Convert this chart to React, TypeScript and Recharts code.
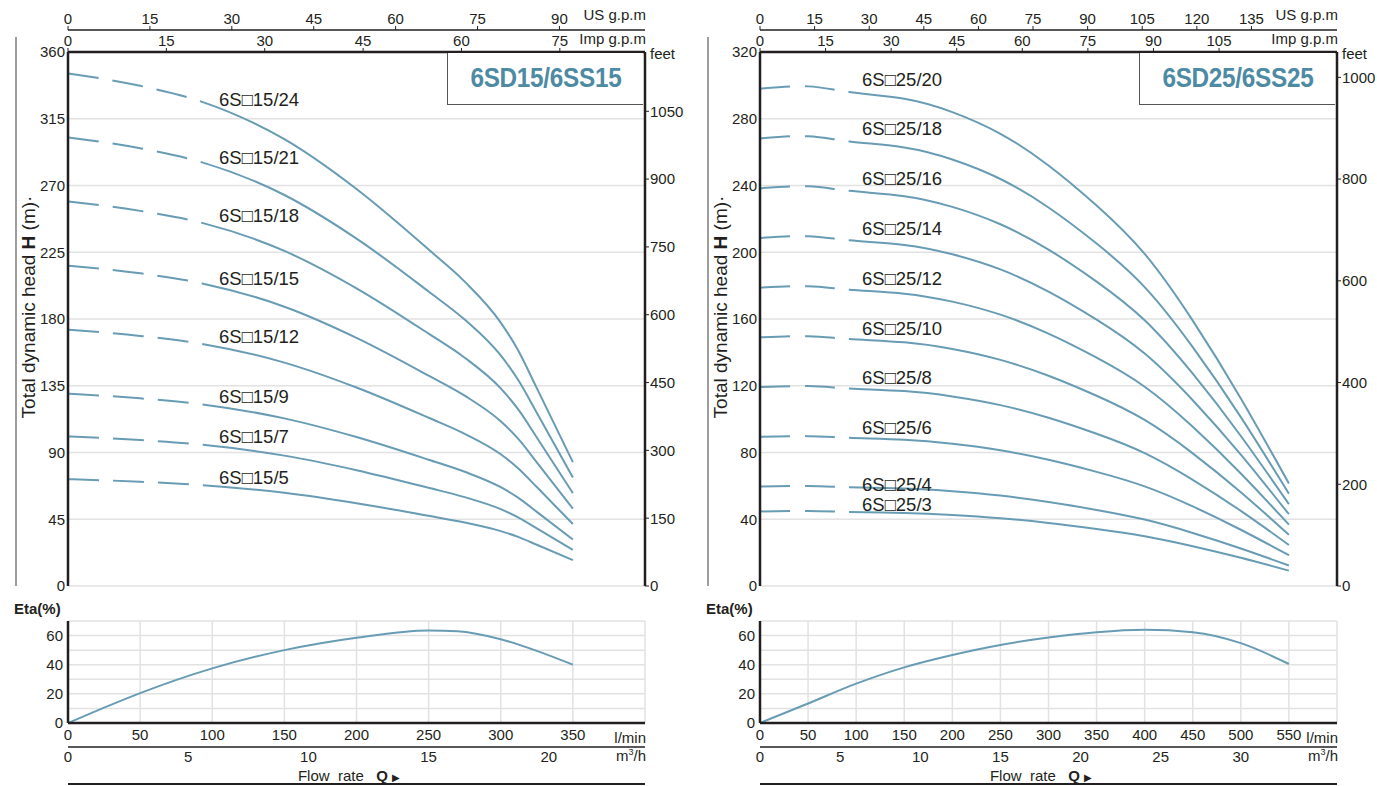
import React from 'react';
import { LineChart, Line, XAxis, YAxis, CartesianGrid } from 'recharts';

const FONT = '"Liberation Sans", Arial, Helvetica, sans-serif';
const INK = '#231f20';
const CURVE = '#689cb4';
const GRID = '#e2e2e2';
const TEAL = '#4d8aa3';

// ---------- 6SD15 / 6SS15 ----------
const flow15 = [0, 50, 93, 150, 200, 250, 275, 300, 312, 325, 350];
const h15_24 = [345.6, 337.2, 326.4, 301.2, 267.6, 226.8, 205.2, 177.6, 158.9, 133.4, 83.5];
const h15_21 = [302.4, 295.1, 285.6, 263.6, 234.2, 198.5, 179.6, 155.4, 139, 116.8, 73.1];
const h15_18 = [259.2, 252.9, 244.8, 225.9, 200.7, 170.1, 153.9, 133.2, 119.2, 100.1, 62.6];
const h15_15 = [216, 210.8, 204, 188.3, 167.3, 141.8, 128.3, 111, 99.3, 83.4, 52.2];
const h15_12 = [172.8, 168.6, 163.2, 150.6, 133.8, 113.4, 102.6, 88.8, 79.4, 66.7, 41.8];
const h15_9 = [129.6, 126.5, 122.4, 113, 100.4, 85.1, 77, 66.6, 59.6, 50, 31.3];
const h15_7 = [100.8, 98.4, 95.2, 87.9, 78.1, 66.2, 59.9, 51.8, 46.3, 38.9, 24.4];
const h15_5 = [72, 70.3, 68, 62.8, 55.8, 47.3, 42.8, 37, 33.1, 27.8, 17.4];
const names15 = ['6S□15/24', '6S□15/21', '6S□15/18', '6S□15/15', '6S□15/12', '6S□15/9', '6S□15/7', '6S□15/5'];
const labelY15 = [100, 158, 216, 279, 337, 397, 437, 478];
const etaFlow15 = [0, 25, 50, 100, 150, 200, 250, 270, 300, 325, 350];
const eta15 = [0, 10.5, 20.5, 37.5, 50, 58.5, 63.5, 63, 57.5, 49.5, 40];
const headTicks15 = [0, 45, 90, 135, 180, 225, 270, 315, 360];
const feetTicks15 = [0, 150, 300, 450, 600, 750, 900, 1050];
const usTicks15 = [0, 15, 30, 45, 60, 75, 90];
const impTicks15 = [0, 15, 30, 45, 60, 75];
const lminTicks15 = [0, 50, 100, 150, 200, 250, 300, 350];
const m3Ticks15 = [0, 5, 10, 15, 20];

// ---------- 6SD25 / 6SS25 ----------
const flow25 = [0, 50, 93, 150, 200, 250, 300, 350, 400, 450, 500, 550];
const h25_20 = [298, 299.4, 296, 292, 284, 271, 252, 228, 199, 159, 112.4, 61.4];
const h25_18 = [268.2, 269.5, 266.4, 262.8, 255.6, 243.9, 226.8, 205.2, 179.1, 143.1, 101.2, 55.3];
const h25_16 = [238.4, 239.5, 236.8, 233.6, 227.2, 216.8, 201.6, 182.4, 159.2, 127.2, 89.9, 49.1];
const h25_14 = [208.6, 209.6, 207.2, 204.4, 198.8, 189.7, 176.4, 159.6, 139.3, 111.3, 78.7, 43];
const h25_12 = [178.8, 179.6, 177.6, 175.2, 170.4, 162.6, 151.2, 136.8, 119.4, 95.4, 67.4, 36.8];
const h25_10 = [149, 149.7, 148, 146, 142, 135.5, 126, 114, 99.5, 79.5, 56.2, 30.7];
const h25_8 = [119.2, 119.8, 118.4, 116.8, 113.6, 108.4, 100.8, 91.2, 79.6, 63.6, 45, 24.6];
const h25_6 = [89.4, 89.8, 88.8, 87.6, 85.2, 81.3, 75.6, 68.4, 59.7, 47.7, 33.7, 18.4];
const h25_4 = [59.6, 59.9, 59.2, 58.4, 56.8, 54.2, 50.4, 45.6, 39.8, 31.8, 22.5, 12.3];
const h25_3 = [44.7, 44.9, 44.4, 43.8, 42.6, 40.65, 37.8, 34.2, 29.85, 23.85, 16.9, 9.2];
const names25 = ['6S□25/20', '6S□25/18', '6S□25/16', '6S□25/14', '6S□25/12', '6S□25/10', '6S□25/8', '6S□25/6', '6S□25/4', '6S□25/3'];
const labelY25 = [80, 129, 179, 229, 279, 329, 378, 428, 485, 505];
const etaFlow25 = [0, 50, 100, 150, 200, 250, 300, 350, 400, 450, 500, 550];
const eta25 = [0, 13.4, 27, 38.2, 46.7, 53.6, 58.6, 62.3, 64, 62.3, 54.8, 40.5];
const headTicks25 = [0, 40, 80, 120, 160, 200, 240, 280, 320];
const feetTicks25 = [0, 200, 400, 600, 800, 1000];
const usTicks25 = [0, 15, 30, 45, 60, 75, 90, 105, 120, 135];
const impTicks25 = [0, 15, 30, 45, 60, 75, 90, 105];
const lminTicks25 = [0, 50, 100, 150, 200, 250, 300, 350, 400, 450, 500, 550];
const m3Ticks25 = [0, 5, 10, 15, 20, 25, 30];

const etaTicks = [0, 10, 20, 30, 40, 50, 60, 70];

const US_GPM = 3.785411784; // l/min per US gallon/min
const IMP_GPM = 4.54609; // l/min per Imp gallon/min

type Cfg = {
  ox: number;
  qMax: number;
  hMax: number;
  flows: number[];
  heads: number[][];
  names: string[];
  labelX: number;
  labelY: number[];
  headTicks: number[];
  feetTicks: number[];
  usTicks: number[];
  impTicks: number[];
  lminTicks: number[];
  m3Ticks: number[];
  etaFlow: number[];
  eta: number[];
  title: string;
  dash: string;
  curveType: 'monotone' | 'natural';
};

const PW = 685;
const axisLine = { stroke: INK, strokeWidth: 2.5 };
const thinLine = { stroke: INK, strokeWidth: 1.3 };
const tickStyle = { fontSize: 15, fill: INK, fontFamily: FONT };
const TXT: React.CSSProperties = {
  position: 'absolute',
  fontFamily: FONT,
  color: INK,
  whiteSpace: 'nowrap',
  lineHeight: 1,
};

function Panel(p: Cfg) {
  const ox = p.ox;
  const series = p.heads.map((hs) => p.flows.map((q, i) => ({ q, h: hs[i] })));
  const usData = series[0].map((d) => ({ q: d.q / US_GPM, h: d.h }));
  const impData = series[0].map((d) => ({ q: d.q / IMP_GPM, h: d.h }));
  const etaData = p.etaFlow.map((q, i) => ({ q, e: p.eta[i] }));
  const etaM3 = etaData.map((d) => ({ q: d.q * 0.06, e: d.e }));
  return (
    <>
      <div style={{ position: 'absolute', left: ox, top: 0 }}>
        <LineChart width={PW} height={600} margin={{ top: 8, right: 0, bottom: 14, left: 18 }}>
          <CartesianGrid xAxisId="q" yAxisId="m" stroke={GRID} strokeWidth={1.5} />
          <XAxis xAxisId="q" dataKey="q" type="number" domain={[0, p.qMax]} ticks={p.lminTicks}
            allowDataOverflow tick={false} tickLine={false} height={0} axisLine={axisLine} />
          <XAxis xAxisId="imp" dataKey="q" orientation="top" type="number" domain={[0, p.qMax / IMP_GPM]}
            ticks={p.impTicks} allowDataOverflow height={22} interval={0} tickSize={4} tickMargin={2}
            tick={tickStyle} tickLine={{ stroke: INK }} axisLine={axisLine} />
          <XAxis xAxisId="us" dataKey="q" orientation="top" type="number" domain={[0, p.qMax / US_GPM]}
            ticks={p.usTicks} allowDataOverflow height={22} interval={0} tickSize={4} tickMargin={2}
            tick={tickStyle} tickLine={{ stroke: INK }} axisLine={thinLine} />
          <YAxis yAxisId="m" type="number" domain={[0, p.hMax]} ticks={p.headTicks} allowDataOverflow
            width={50} interval={0} tickLine={false} tickSize={2} tickMargin={1} tick={tickStyle}
            axisLine={axisLine} />
          <YAxis yAxisId="ft" orientation="right" type="number" domain={[0, p.hMax / 0.3048]}
            ticks={p.feetTicks} allowDataOverflow width={40} interval={0} tickSize={4} tickMargin={1}
            tick={tickStyle} tickLine={{ stroke: INK }} axisLine={axisLine} />
          <Line data={impData} dataKey="h" xAxisId="imp" yAxisId="m" stroke="none" dot={false}
            activeDot={false} isAnimationActive={false} />
          <Line data={usData} dataKey="h" xAxisId="us" yAxisId="m" stroke="none" dot={false}
            activeDot={false} isAnimationActive={false} />
          {series.map((d, i) => (
            <Line key={i} data={d} dataKey="h" xAxisId="q" yAxisId="m" type={p.curveType}
              stroke={CURVE} strokeWidth={2} strokeDasharray={p.dash} dot={false}
              activeDot={false} isAnimationActive={false} />
          ))}
        </LineChart>
      </div>

      <div style={{ position: 'absolute', left: ox, top: 600 }}>
        <LineChart width={PW} height={170} margin={{ top: 21, right: 40, bottom: 0, left: 18 }}>
          <CartesianGrid xAxisId="q" yAxisId="e" stroke={GRID} strokeWidth={1.5} />
          <XAxis xAxisId="q" dataKey="q" type="number" domain={[0, p.qMax]} ticks={p.lminTicks}
            allowDataOverflow height={24} interval={0} tickSize={4} tickMargin={2} tickLine={false}
            tick={tickStyle} axisLine={axisLine} />
          <XAxis xAxisId="zm3" dataKey="q" type="number" domain={[0, p.qMax * 0.06]} ticks={p.m3Ticks}
            allowDataOverflow height={23} interval={0} tickSize={3} tickMargin={1} tickLine={false}
            tick={tickStyle} axisLine={thinLine} />
          <XAxis xAxisId="top" dataKey="q" orientation="top" type="number" domain={[0, p.qMax]} allowDataOverflow
            height={0} tick={false} tickLine={false} axisLine={axisLine} />
          <YAxis yAxisId="e" type="number" domain={[0, 70]} ticks={etaTicks} allowDataOverflow
            width={50} interval={0} tickLine={false} tickSize={3} tickMargin={2} tick={tickStyle}
            tickFormatter={(v: number) => (v % 20 === 0 && v < 70 ? String(v) : '')} axisLine={axisLine} />
          <YAxis yAxisId="r" orientation="right" type="number" domain={[0, 70]} allowDataOverflow
            width={0} tick={false} tickLine={false} axisLine={axisLine} />
          <Line data={etaM3} dataKey="e" xAxisId="zm3" yAxisId="e" stroke="none" dot={false}
            activeDot={false} isAnimationActive={false} />
          <Line data={etaData} dataKey="e" xAxisId="top" yAxisId="r" stroke="none" dot={false}
            activeDot={false} isAnimationActive={false} />
          <Line data={etaData} dataKey="e" xAxisId="q" yAxisId="e" type="monotone" stroke={CURVE}
            strokeWidth={2} dot={false} activeDot={false} isAnimationActive={false} />
        </LineChart>
      </div>

      {/* gray side bar */}
      <div style={{ position: 'absolute', left: ox + 15, top: 37, width: 2, height: 549, background: '#9d9d9d' }} />
      {/* y axis title */}
      <div style={{ ...TXT, left: ox + 28, top: 307, fontSize: 19, transform: 'translate(-50%,-50%) rotate(-90deg)' }}>
        Total dynamic head <b>H</b> (m)·
      </div>
      {/* top axis names */}
      <div style={{ ...TXT, right: 1377 - (ox + 646), top: 14, fontSize: 15, transform: 'translateY(-50%)' }}>US g.p.m</div>
      <div style={{ ...TXT, right: 1377 - (ox + 646), top: 38, fontSize: 15, transform: 'translateY(-50%)' }}>Imp g.p.m</div>
      <div style={{ ...TXT, left: ox + 650, top: 53, fontSize: 15, transform: 'translateY(-50%)' }}>feet</div>
      {/* title box */}
      <div style={{
        position: 'absolute', left: ox + 447, top: 53, width: 196, height: 52, background: '#fff',
        borderLeft: '1.5px solid #555', borderBottom: '1.5px solid #555', display: 'flex',
        alignItems: 'center', justifyContent: 'center', boxSizing: 'border-box',
      }}>
        <span style={{ fontFamily: FONT, fontWeight: 'bold', fontSize: 27, color: TEAL, transform: 'scaleX(0.9)', display: 'inline-block', letterSpacing: -0.3 }}>
          {p.title}
        </span>
      </div>
      {/* curve labels */}
      {p.names.map((n, i) => (
        <div key={n} style={{ ...TXT, left: ox + p.labelX, top: p.labelY[i], fontSize: 18.5, lineHeight: 0.9, transform: 'translateY(-50%)' }}>{n}</div>
      ))}
      {/* eta labels */}
      <div style={{ ...TXT, left: ox + 14, top: 608, fontSize: 15, fontWeight: 'bold', transform: 'translateY(-50%)' }}>Eta(%)</div>
      <div style={{ ...TXT, right: 1377 - (ox + 646), top: 737, fontSize: 15, transform: 'translateY(-50%)' }}>l/min</div>
      <div style={{ ...TXT, right: 1377 - (ox + 646), top: 755, fontSize: 15, transform: 'translateY(-50%)' }}>
        m<sup style={{ fontSize: 9 }}>3</sup>/h
      </div>
      <div style={{ ...TXT, left: ox + 349, top: 775, fontSize: 15, transform: 'translate(-50%,-50%)' }}>
        Flow&nbsp; rate&nbsp;&nbsp; <b>Q</b> <span style={{ fontSize: 10 }}>▶</span>
      </div>
      <div style={{ position: 'absolute', left: ox + 68, top: 783, width: 577, height: 1.5, background: INK }} />
    </>
  );
}

const panel15: Cfg = {
  ox: 0, qMax: 400, hMax: 360, flows: flow15,
  heads: [h15_24, h15_21, h15_18, h15_15, h15_12, h15_9, h15_7, h15_5],
  names: names15, labelX: 219, labelY: labelY15, headTicks: headTicks15, feetTicks: feetTicks15,
  usTicks: usTicks15, impTicks: impTicks15, lminTicks: lminTicks15, m3Ticks: m3Ticks15,
  etaFlow: etaFlow15, eta: eta15, title: '6SD15/6SS15', dash: '31 14 31 14 31 14 4000 0',
  curveType: 'monotone',
};

const panel25: Cfg = {
  ox: 692, qMax: 600, hMax: 320, flows: flow25,
  heads: [h25_20, h25_18, h25_16, h25_14, h25_12, h25_10, h25_8, h25_6, h25_4, h25_3],
  names: names25, labelX: 170, labelY: labelY25, headTicks: headTicks25, feetTicks: feetTicks25,
  usTicks: usTicks25, impTicks: impTicks25, lminTicks: lminTicks25, m3Ticks: m3Ticks25,
  etaFlow: etaFlow25, eta: eta25, title: '6SD25/6SS25', dash: '30 15 30 14 4000 0',
  curveType: 'natural',
};

export default function App() {
  return (
    <div style={{ position: 'absolute', left: 0, top: 0, width: 1377, height: 786, background: '#fff', fontFamily: FONT, overflow: 'hidden' }}>
      <Panel {...panel15} />
      <Panel {...panel25} />
    </div>
  );
}
